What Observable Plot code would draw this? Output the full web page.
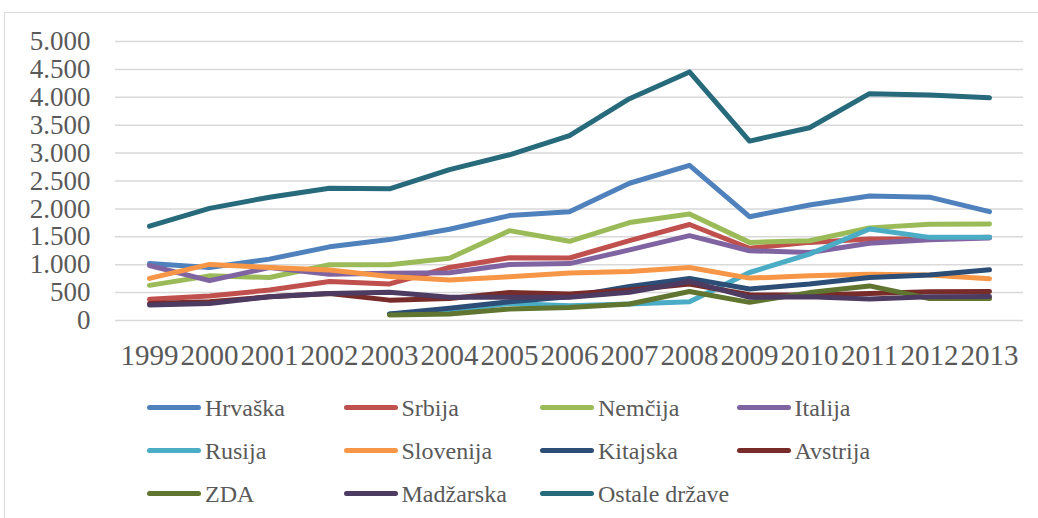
<!DOCTYPE html>
<html>
<head>
<meta charset="utf-8">
<script src="https://cdn.jsdelivr.net/npm/d3@7"></script>
<script src="https://cdn.jsdelivr.net/npm/@observablehq/plot@0.6"></script>
<style>
  html, body { margin: 0; padding: 0; background: #fff; overflow: hidden; }
  #wrap { position: relative; width: 1038px; height: 518px; font-family: "Times New Roman", "Liberation Serif", Tinos, "DejaVu Serif", serif; }
  #frame { position: absolute; left: 4px; top: 12px; width: 1100px; height: 600px; border: 1.5px solid #d9d9d9; box-sizing: border-box; }
  #chart { position: absolute; left: 0; top: 0; }
  #legend { position: absolute; left: 147px; top: 386px; display: grid; grid-template-columns: repeat(4, 196.5px); grid-auto-rows: 43px; }
  .item { display: flex; align-items: center; height: 43px; }
  .sw { width: 54px; height: 5px; border-radius: 3px; margin-right: 4px; }
  .lab { font-size: 24px; color: #595959; line-height: 1; }
  #chart svg text { font-family: "Times New Roman", "Liberation Serif", Tinos, "DejaVu Serif", serif; }
</style>
</head>
<body>
<div id="wrap">
  <div id="frame"></div>
  <div id="chart"></div>
  <div id="legend"></div>
</div>
<script>
const years = [1999,2000,2001,2002,2003,2004,2005,2006,2007,2008,2009,2010,2011,2012,2013];
const seriesNames = ["Hrvaška","Srbija","Nemčija","Italija","Rusija","Slovenija","Kitajska","Avstrija","ZDA","Madžarska","Ostale države"];
const seriesColors = ["#4F81BD","#C0504D","#9BBB59","#8064A2","#4BACC6","#F79646","#2C4D75","#772C2A","#5F7530","#4D3B62","#276A7C"];
const yTicks = [0,500,1000,1500,2000,2500,3000,3500,4000,4500,5000];

const hrvaska   = [1020, 950, 1100, 1320, 1450, 1635, 1880, 1950, 2460, 2780, 1860, 2070, 2230, 2210, 1950];
const srbija    = [380, 440, 545, 700, 655, 950, 1125, 1120, 1430, 1720, 1295, 1400, 1460, 1460, 1490];
const nemcija   = [630, 800, 770, 1000, 1000, 1115, 1610, 1420, 1755, 1910, 1400, 1430, 1660, 1725, 1730];
const italija   = [985, 715, 950, 830, 845, 855, 1005, 1020, 1265, 1520, 1250, 1220, 1385, 1445, 1480];
const rusija    = [null, null, null, null, 115, 175, 305, 265, 295, 335, 860, 1190, 1640, 1490, 1490];
const slovenija = [755, 1005, 950, 905, 790, 725, 785, 850, 880, 950, 760, 800, 830, 815, 750];
const kitajska  = [null, null, null, null, 115, 220, 335, 425, 610, 755, 565, 655, 770, 815, 910];
const avstrija  = [305, 335, 425, 485, 365, 395, 500, 475, 545, 655, 460, 455, 485, 515, 520];
const zda       = [null, null, null, null, 100, 115, 205, 235, 295, 520, 325, 500, 620, 395, 395];
const madzarska = [280, 305, 425, 485, 505, 415, 415, 415, 505, 700, 415, 425, 385, 425, 430];
const ostale    = [1690, 2010, 2210, 2370, 2360, 2705, 2970, 3315, 3975, 4455, 3215, 3455, 4065, 4040, 3990];

const seriesValues = [hrvaska, srbija, nemcija, italija, rusija, slovenija, kitajska, avstrija, zda, madzarska, ostale];

const data = [];
seriesNames.forEach((name, i) => {
  seriesValues[i].forEach((v, j) => {
    if (v != null) data.push({series: name, year: String(years[j]), value: v});
  });
});

const fmt = d3.formatLocale({decimal: ",", thousands: ".", grouping: [3], currency: ["", ""]}).format(",");
const serif = "'Times New Roman', 'Liberation Serif', Tinos, 'DejaVu Serif', serif";

const chart = Plot.plot({
  width: 1038,
  height: 380,
  marginLeft: 115,
  marginRight: 15,
  marginTop: 41,
  marginBottom: 60,
  style: {fontFamily: serif, background: "transparent", color: "#595959"},
  x: {type: "point", domain: years.map(String), padding: 0.5},
  y: {domain: [0, 5000]},
  color: {domain: seriesNames, range: seriesColors},
  marks: [
    Plot.gridY(yTicks, {stroke: "#d9d9d9", strokeOpacity: 1, strokeWidth: 1.5}),
    Plot.axisY(yTicks, {tickSize: 0, tickPadding: 25, tickFormat: fmt, fontSize: 27, fill: "#595959", label: null}),
    Plot.axisX(years.map(String), {tickSize: 0, tickPadding: 24, fontSize: 29, fill: "#595959", label: null}),
    Plot.line(data, {x: "year", y: "value", z: "series", stroke: "series", strokeWidth: 5, strokeLinecap: "round", strokeLinejoin: "round"})
  ]
});
document.getElementById("chart").appendChild(chart);

const legend = document.getElementById("legend");
seriesNames.forEach((name, i) => {
  const it = document.createElement("div");
  it.className = "item";
  const sw = document.createElement("div");
  sw.className = "sw";
  sw.style.background = seriesColors[i];
  const lb = document.createElement("span");
  lb.className = "lab";
  lb.textContent = name;
  it.appendChild(sw);
  it.appendChild(lb);
  legend.appendChild(it);
});
</script>
</body>
</html>
